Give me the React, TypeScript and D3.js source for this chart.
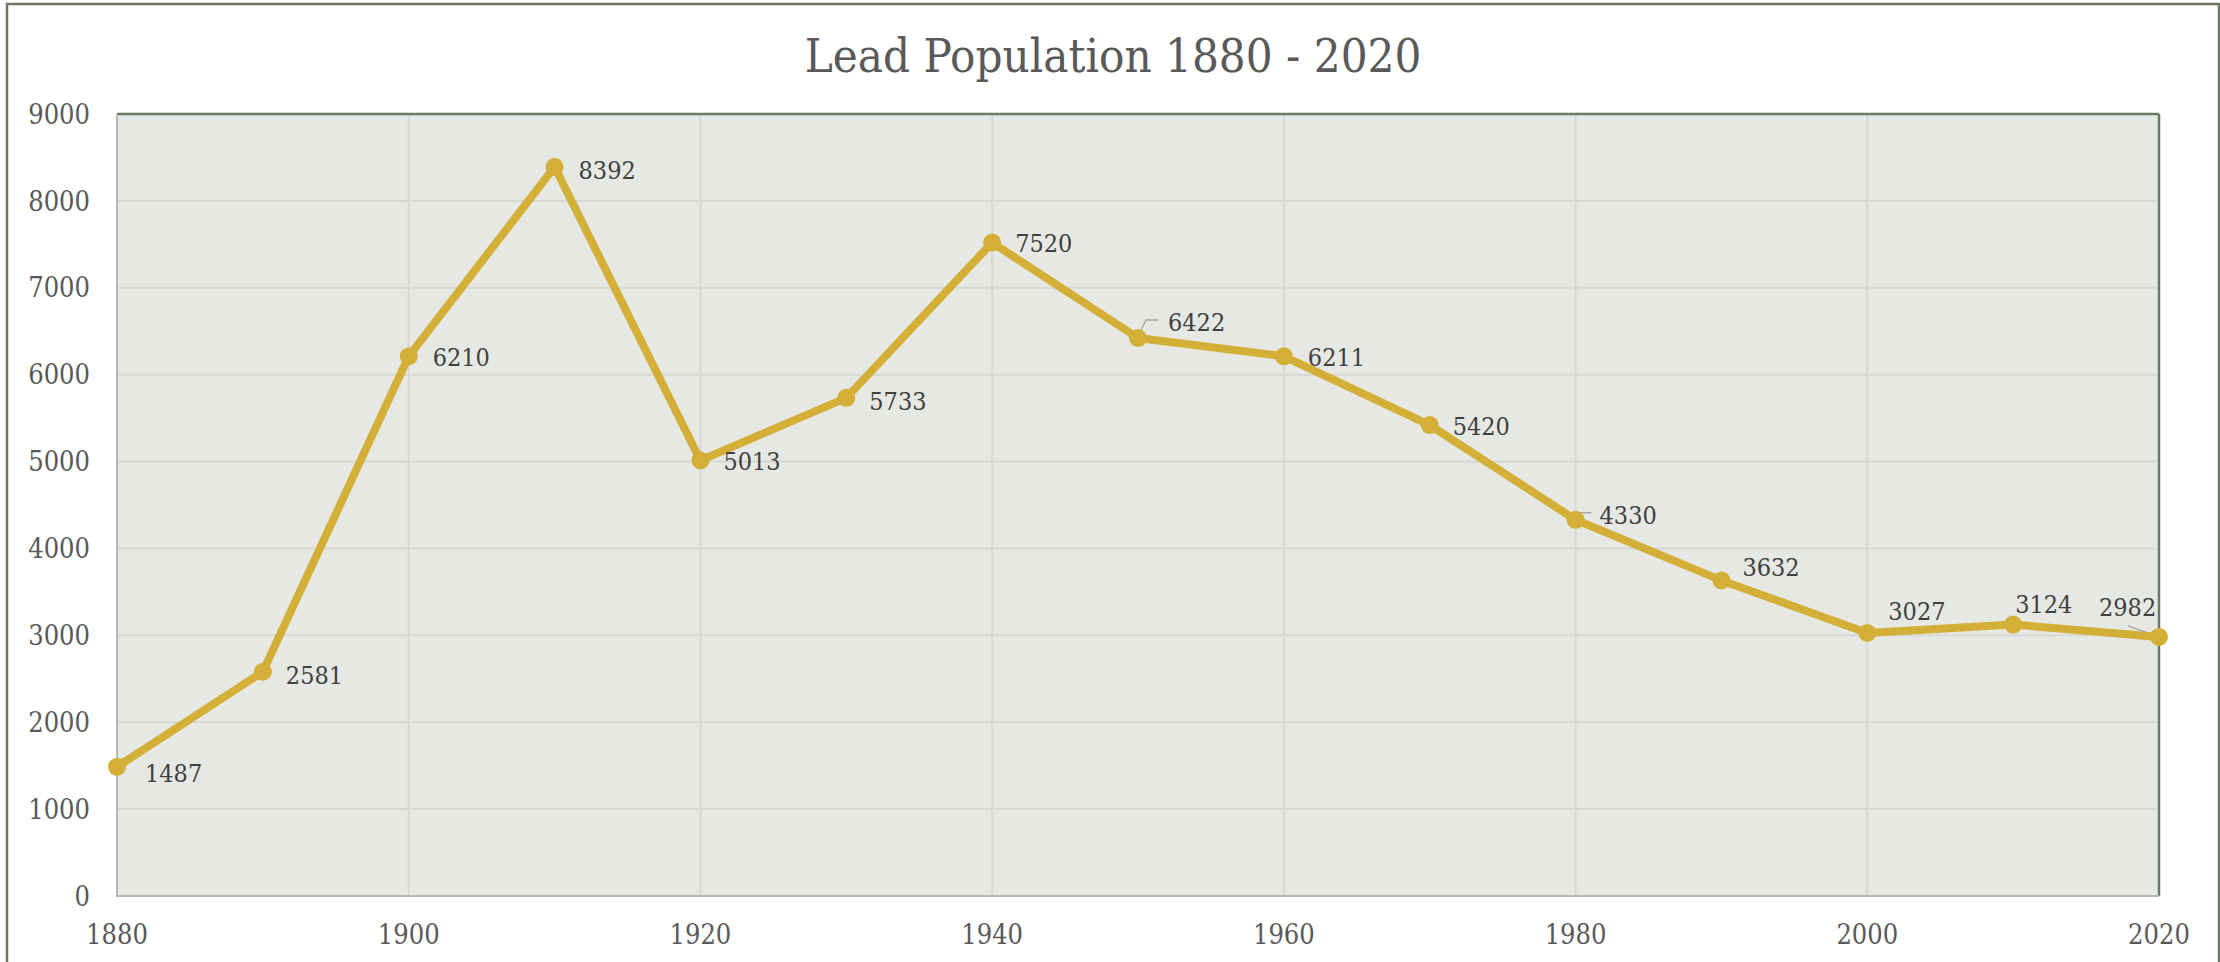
import React from "react";
import * as d3 from "d3";

const years = [1880, 1890, 1900, 1910, 1920, 1930, 1940, 1950, 1960, 1970, 1980, 1990, 2000, 2010, 2020];
const population = [1487, 2581, 6210, 8392, 5013, 5733, 7520, 6422, 6211, 5420, 4330, 3632, 3027, 3124, 2982];
const xTicks = [1880, 1900, 1920, 1940, 1960, 1980, 2000, 2020];
const yTicks = [0, 1000, 2000, 3000, 4000, 5000, 6000, 7000, 8000, 9000];
const title = "Lead Population 1880 - 2020";

// label offsets (styling) relative to each point: [dx to left edge, dy to center]
const labelOffsets: [number, number][] = [
  [28, 6], [23, 3], [24, 1], [24, 3], [23, 1], [23, 3], [23, 0], [30, -16],
  [24, 1], [23, 1], [24, -5], [21, -13], [21, -22], [2, -21], [-60, -30],
];

const W = 2220;
const H = 962;
const M = { left: 117, right: 2159, top: 114, bottom: 896 };
const FONT = "'DejaVu Serif Condensed', 'DejaVu Serif', serif";

export default function App() {
  const x = d3.scaleLinear().domain([1880, 2020]).range([M.left, M.right]);
  const y = d3.scaleLinear().domain([0, 9000]).range([M.bottom, M.top]);
  const line = d3.line<number>().x((_, i) => x(years[i])).y((d) => y(d));

  const pts = population.map((v, i) => ({ px: x(years[i]), py: y(v), v }));

  return (
    <svg
      width={W}
      height={H}
      style={{ position: "absolute", left: 0, top: 0, display: "block", background: "#fff" }}
    >
      <rect x={7} y={4} width={2212} height={1100} fill="#fff" stroke="#6e7763" strokeWidth={2.5} />
      <text
        x={1113}
        y={72}
        textAnchor="middle"
        fontFamily={FONT}
        fontSize={47}
        fill="#595959"
        style={{ fontStretch: "condensed" }}
      >
        {title}
      </text>
      <rect x={M.left} y={M.top} width={M.right - M.left} height={M.bottom - M.top} fill="#e6e8e3" />
      {yTicks.slice(1).map((t) => (
        <line key={"h" + t} x1={M.left} x2={M.right} y1={y(t)} y2={y(t)} stroke="#d6d8d5" strokeWidth={2} />
      ))}
      {xTicks.slice(1, -1).map((t) => (
        <line key={"v" + t} x1={x(t)} x2={x(t)} y1={M.top} y2={M.bottom} stroke="#d6d8d5" strokeWidth={2} />
      ))}
      <line x1={M.left} x2={M.right} y1={M.top} y2={M.top} stroke="#6e7763" strokeWidth={2.5} />
      <line x1={M.right} x2={M.right} y1={M.top} y2={M.bottom} stroke="#6e7763" strokeWidth={2.5} />
      <line x1={M.left} x2={M.left} y1={M.top} y2={M.bottom + 1} stroke="#b5b7b2" strokeWidth={2} />
      <line x1={M.left} x2={M.right} y1={M.bottom} y2={M.bottom} stroke="#b5b7b2" strokeWidth={2} />
      {yTicks.map((t) => (
        <text
          key={"yl" + t}
          x={90}
          y={y(t)}
          dy="0.36em"
          textAnchor="end"
          fontFamily={FONT}
          fontSize={27}
          fill="#595959"
          style={{ fontStretch: "condensed" }}
        >
          {t}
        </text>
      ))}
      {xTicks.map((t) => (
        <text
          key={"xl" + t}
          x={x(t)}
          y={934}
          dy="0.36em"
          textAnchor="middle"
          fontFamily={FONT}
          fontSize={27}
          fill="#595959"
          style={{ fontStretch: "condensed" }}
        >
          {t}
        </text>
      ))}
      {/* leader lines */}
      <polyline
        points={`${pts[7].px},${pts[7].py - 2} ${pts[7].px + 8},${pts[7].py - 18} ${pts[7].px + 20},${pts[7].py - 18}`}
        fill="none"
        stroke="#a6a6a6"
        strokeWidth={1.5}
      />
      <polyline
        points={`${pts[10].px + 1},${pts[10].py - 3} ${pts[10].px + 5},${pts[10].py - 7} ${pts[10].px + 16},${pts[10].py - 7}`}
        fill="none"
        stroke="#a6a6a6"
        strokeWidth={1.5}
      />
      <line
        x1={pts[14].px - 31}
        y1={pts[14].py - 11}
        x2={pts[14].px}
        y2={pts[14].py}
        stroke="#a6a6a6"
        strokeWidth={1.5}
      />
      <path d={line(population) || ""} fill="none" stroke="#d4af37" strokeWidth={8} strokeLinejoin="round" />
      {pts.map((p, i) => (
        <circle key={"c" + i} cx={p.px} cy={p.py} r={9} fill="#d4af37" />
      ))}
      {pts.map((p, i) => (
        <text
          key={"l" + i}
          x={p.px + labelOffsets[i][0]}
          y={p.py + labelOffsets[i][1]}
          dy="0.36em"
          fontFamily={FONT}
          fontSize={25}
          fill="#404040"
          style={{ fontStretch: "condensed" }}
        >
          {p.v}
        </text>
      ))}
    </svg>
  );
}
